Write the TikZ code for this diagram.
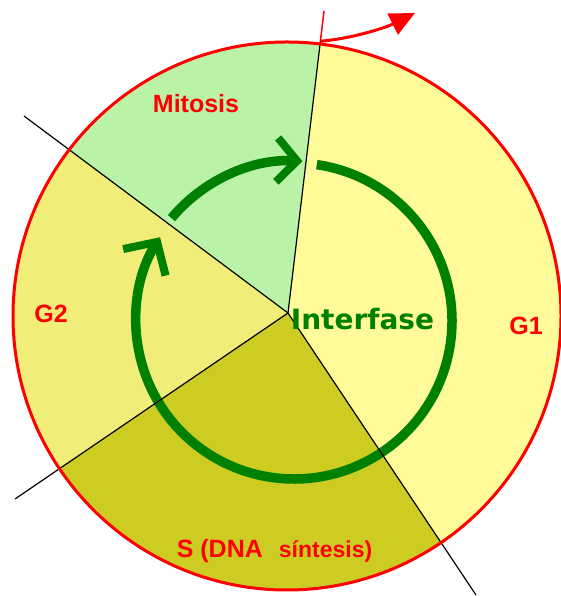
\documentclass[tikz,border=0pt]{standalone}
\usepackage{fontspec}
\setmainfont{Liberation Sans}
\newfontfamily\widefont{DejaVu Sans}
\usetikzlibrary{calc,arrows.meta}
\definecolor{mitgreen}{RGB}{186,242,168}
\definecolor{gonefill}{RGB}{255,251,152}
\definecolor{gtwofill}{RGB}{240,238,120}
\definecolor{sfill}{RGB}{204,204,34}
\definecolor{ringgreen}{RGB}{0,128,0}

\begin{document}
\begin{tikzpicture}[
            x=1pt, y=1pt,
            lbl/.style={text=red,font=\bfseries\fontsize{25}{30}\selectfont,inner sep=0pt,anchor=base},
            cut/.style={draw=black,line width=1.2pt},
            ring/.style={draw=ringgreen,line width=9.5pt},
            rim/.style={draw=red,line width=3pt}
        ]

        \useasboundingbox (0,0) rectangle (561,596);

        \coordinate (o) at (287,280);   % cell
        \coordinate (c) at (288,283);   % where the cuts meet
        \coordinate (g) at (294,275);   % cycle ring
        \coordinate (p1) at (324,585);
        \coordinate (p2) at (24,480);
        \coordinate (p3) at (15,97);
        \coordinate (p4) at (476,1);
        \coordinate (q1) at ($(c)!0.9!(p1)$);
        \coordinate (tip) at (415,583);

        % phases
        \fill[gonefill] (o) circle[radius=274];
        \begin{scope}
            \clip (o) circle[radius=274];
            \fill[mitgreen] (c) -- ($(c)!2!(p1)$) -- ($(c)!2!(p2)$) -- cycle;
            \fill[gtwofill] (c) -- ($(c)!2!(p2)$) -- ($(c)!2!(p3)$) -- cycle;
            \fill[sfill] (c) -- ($(c)!2!(p3)$) -- ($(c)!2!(p4)$) -- cycle;
        \end{scope}

        % cycle arrows
        \draw[ring,-{Straight Barb[length=24pt,width=50pt,line width=8pt]}]
            (g) ++(81.7:158) arc[start angle=81.7,end angle=-212,radius=158];
        \draw[ring,-{Straight Barb[length=20pt,width=44pt,line width=8pt]}]
            (g) ++(140:160) arc[start angle=140,end angle=87,radius=160];

        \draw[cut] (c) -- (q1);
        \draw[cut] (c) -- (p2);
        \draw[cut] (c) -- (p3);
        \draw[cut] (c) -- (p4);

        \draw[rim] (o) circle[radius=274];
        \draw[red,line width=1.5pt] (q1) -- (p1);
        \draw[red,line width=3pt,-{Triangle[length=25pt,width=23pt]}]
            (q1) .. controls (350,557) and (385,568) .. (tip);

        \node[lbl] (mitosis) at (196,483) {Mitosis};
        \node[lbl] (gtwo) at (51,273) {G2};
        \node[lbl] (gone) at (526,261) {G1};
        \node[lbl] (sphase) at (274.5,38) {S (DNA\hspace{16pt}{\fontsize{23}{28}\selectfont síntesis)}};
        \node[lbl,text=ringgreen,font=\widefont\bfseries\fontsize{28}{34}\selectfont] (inter) at (362.5,266) {Interfase};

\end{tikzpicture}
\end{document}
